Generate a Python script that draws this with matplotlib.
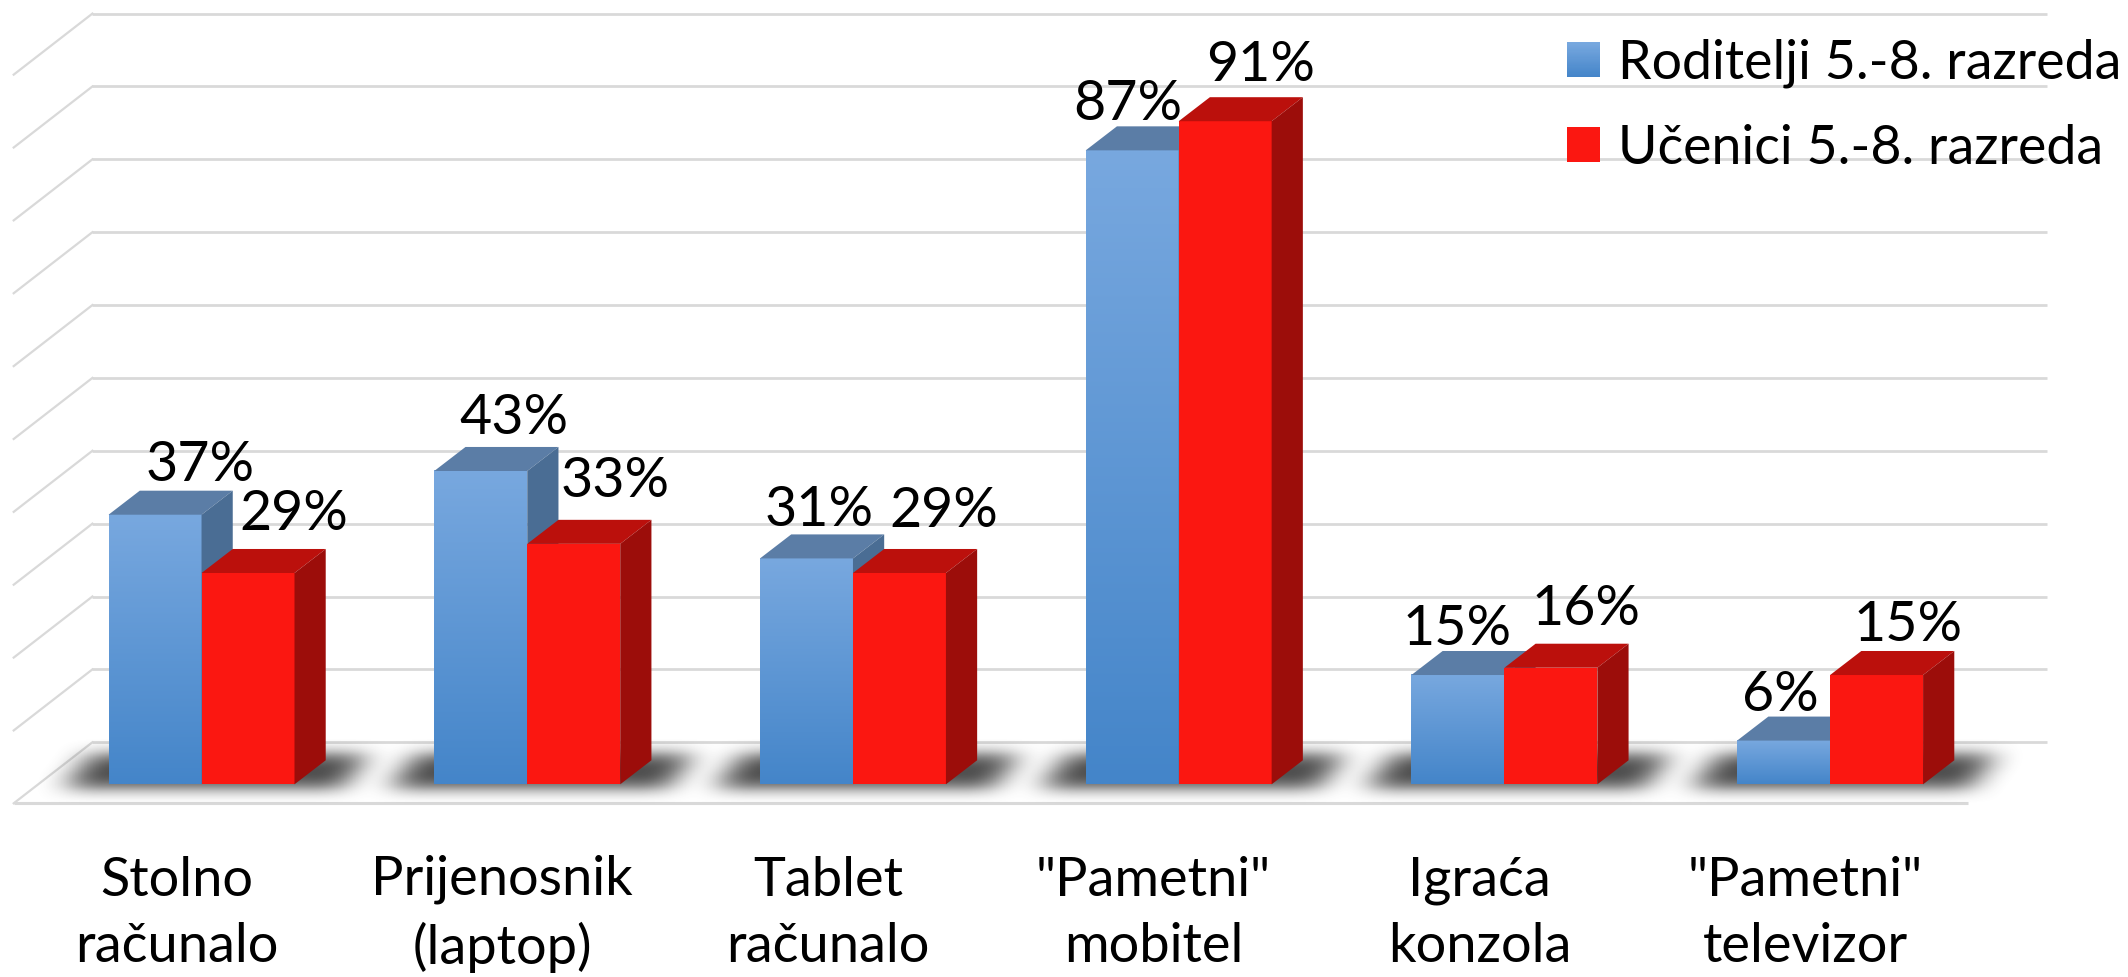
import numpy as np
import matplotlib
matplotlib.use("Agg")
import matplotlib.pyplot as plt
from matplotlib.legend_handler import HandlerBase
from matplotlib.patches import Polygon, Rectangle

categories = ['Stolno\nračunalo', 'Prijenosnik\n(laptop)', 'Tablet\nračunalo',
              '"Pametni"\nmobitel', 'Igraća\nkonzola', '"Pametni"\ntelevizor']
roditelji = [37, 43, 31, 87, 15, 6]
ucenici = [29, 33, 29, 91, 16, 15]
series_names = ['Roditelji 5.-8. razreda', 'Učenici 5.-8. razreda']
grid_values = [0, 10, 20, 30, 40, 50, 60, 70, 80, 90, 100]

# label offsets from the top of the front face, in pixels of the full image
blue_label_off = [(45, 49), (33, 52), (13, 48), (-4, 46), (-1, 46), (-3, 45)]
red_label_off = [(46, 58), (41, 62), (44, 61), (35, 56), (35, 58), (31, 50)]

BLUE_TOP, BLUE_BOT = '#78A8DF', '#4485C9'
BLUE_LID, BLUE_SIDE_TOP, BLUE_SIDE_BOT = '#5B7DA6', '#4A6D94', '#2F5F8F'
RED, RED_LID, RED_SIDE = '#FB1711', '#BB100C', '#9C0D0A'
GRID = '#D9D9D9'

# one category = 240 px and one percent = 5.37 px of the 1568 wide view
BAR_W = 68.5 / 240
DEPTH_X = 23 / 240
DEPTH_Y = 17.7 / 5.37
WALL_X = 58 / 240
WALL_Y = 45 / 5.37
FLOOR_BACK = 31 / 5.37

plt.rcParams['font.family'] = ['Lato', 'DejaVu Sans']

fig = plt.figure(figsize=(21.28, 9.77), dpi=100)
ax = fig.add_axes([0, 0, 1, 1])
ax.set_xlim(-148.5 / 240, (1568 - 148.5) / 240)
ax.set_ylim(-(720 - 578) / 5.37, 578 / 5.37)
ax.axis('off')


def gradient(x0, x1, y0, y1, top, bottom, z):
    c0 = np.array(matplotlib.colors.to_rgb(top))
    c1 = np.array(matplotlib.colors.to_rgb(bottom))
    t = np.linspace(0, 1, 200)[:, None, None]
    img = c0[None, None, :] * (1 - t) + c1[None, None, :] * t
    ax.imshow(img, extent=(x0, x1, y0, y1), origin='upper', aspect='auto',
              zorder=z, interpolation='bilinear')


def draw_bar(x0, value, z, blue):
    x1 = x0 + BAR_W
    if blue:
        gradient(x0, x1, 0, value, BLUE_TOP, BLUE_BOT, z)
        lid, side = BLUE_LID, BLUE_SIDE_TOP
    else:
        ax.add_patch(Rectangle((x0, 0), BAR_W, value, fc=RED, ec='none', zorder=z))
        lid, side = RED_LID, RED_SIDE
    ax.add_patch(Polygon([(x0, value), (x1, value), (x1 + DEPTH_X, value + DEPTH_Y),
                          (x0 + DEPTH_X, value + DEPTH_Y)], fc=lid, ec='none', zorder=z))
    ax.add_patch(Polygon([(x1, 0), (x1 + DEPTH_X, DEPTH_Y), (x1 + DEPTH_X, value + DEPTH_Y),
                          (x1, value)], fc=side, ec='none', zorder=z))


# walls and floor
for v in grid_values:
    back = v + FLOOR_BACK
    ax.plot([-0.335, 5.665], [back, back], color=GRID, lw=2, zorder=1, solid_capstyle='butt')
    ax.plot([-0.335, -0.335 - WALL_X], [back, back - WALL_Y], color=GRID, lw=1.6, zorder=1)
ax.plot([-0.577, 5.423], [FLOOR_BACK - WALL_Y] * 2, color=GRID, lw=2.2, zorder=1,
        solid_capstyle='butt')

# soft shadow under every group
xs = np.linspace(-0.7, 5.8, 1400)
ys = np.linspace(-5, 8, 120)
gx, gy = np.meshgrid(xs, ys)
mask = np.zeros_like(gx)
for i in range(len(categories)):
    left = i - 0.42 + (gy + 0.5) * 0.0165
    right = i + 0.43 + (gy + 0.5) * 0.0165
    mask[(gx > left) & (gx < right) & (gy > -0.6) & (gy < 4.2)] = 1
kx = np.ones(23) / 23
ky = np.ones(21) / 21
for _ in range(2):
    mask = np.apply_along_axis(lambda r: np.convolve(r, kx, mode='same'), 1, mask)
    mask = np.apply_along_axis(lambda c: np.convolve(c, ky, mode='same'), 0, mask)
shadow = np.zeros(mask.shape + (4,))
shadow[..., :3] = 0.3
shadow[..., 3] = mask * 0.98
ax.imshow(shadow, extent=(xs[0], xs[-1], ys[0], ys[-1]), origin='lower', aspect='auto', zorder=2)

# bars and value labels
for i, label in enumerate(categories):
    draw_bar(i - BAR_W, roditelji[i], 3, True)
    draw_bar(i, ucenici[i], 4, False)
    pairs = [(i - BAR_W / 2, roditelji[i], blue_label_off[i]), (i + BAR_W / 2, ucenici[i], red_label_off[i])]
    for x, val, off in pairs:
        ax.annotate(f'{val}%', (x, val), xytext=off, textcoords='offset pixels',
                    ha='center', va='center', fontsize=40, color='black', zorder=6)
    ax.text(i - 0.077, -17.7, label, ha='center', va='center', fontsize=39,
            linespacing=1.42, color='black', zorder=6)


class GradientSwatch(HandlerBase):
    def __init__(self, top, bottom):
        super().__init__()
        self.top = np.array(matplotlib.colors.to_rgb(top))
        self.bottom = np.array(matplotlib.colors.to_rgb(bottom))

    def create_artists(self, legend, orig_handle, xdescent, ydescent, width, height, fontsize, trans):
        n = 30
        out = []
        for k in range(n):
            t = k / (n - 1)
            col = self.top * (1 - t) + self.bottom * t
            y = -ydescent + height * (1 - (k + 1) / n)
            out.append(Rectangle((-xdescent, y), width, height / n + 0.3, fc=col, ec='none', transform=trans))
        return out


h1 = Rectangle((0, 0), 1, 1)
h2 = Rectangle((0, 0), 1, 1)
leg = fig.legend([h1, h2], series_names, loc='upper left', bbox_to_anchor=(1567 / 2128, 1 - 39 / 977),
                 frameon=False, fontsize=38.7, borderpad=0, borderaxespad=0, handlelength=0.614,
                 handleheight=0.614, handletextpad=0.335, labelspacing=0.66,
                 handler_map={h1: GradientSwatch(BLUE_TOP, BLUE_BOT), h2: GradientSwatch(RED, RED)})
leg.set_zorder(7)

fig.savefig('out.png', dpi=100)
